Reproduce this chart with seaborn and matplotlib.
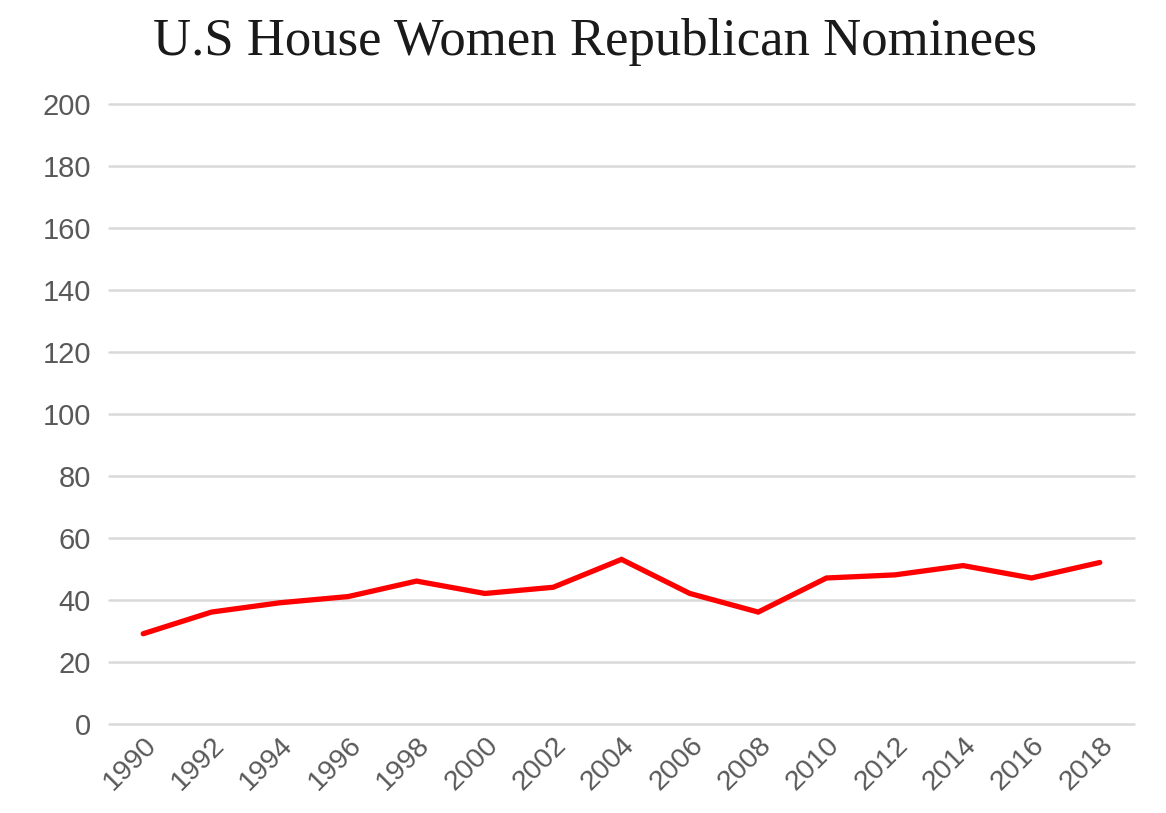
import matplotlib
matplotlib.use("Agg")
import matplotlib.pyplot as plt
import numpy as np
import pandas as pd
import seaborn as sns

years = ["1990", "1992", "1994", "1996", "1998", "2000", "2002", "2004",
         "2006", "2008", "2010", "2012", "2014", "2016", "2018"]
nominees = [29, 36, 39, 41, 46, 42, 44, 53, 42, 36, 47, 48, 51, 47, 52]
yticks = [0, 20, 40, 60, 80, 100, 120, 140, 160, 180, 200]

sns.set_theme(style="white")
plt.rcParams['font.family'] = ['Liberation Sans', 'DejaVu Sans']

df = pd.DataFrame({"year": years, "nominees": nominees})

fig = plt.figure(figsize=(11.66, 8.13), dpi=100)
ax = fig.add_axes([0.0935, 0.110, 0.879, 0.762])

pos = np.arange(len(years))
sns.lineplot(x=pos, y=df["nominees"], ax=ax, color="#ff0000", linewidth=3.8,
             solid_capstyle="round", solid_joinstyle="miter", zorder=3)

ax.set_xlim(-0.5, len(years) - 0.5)
ax.set_ylim(0, 200)
ax.set_yticks(yticks)
ax.set_yticklabels([str(t) for t in yticks], fontsize=21, color="#595959")
ax.set_xticks(pos)
ax.set_xticklabels(years, fontsize=20.5, color="#595959", rotation=45,
                   ha="right", rotation_mode="anchor")
ax.tick_params(axis="y", length=0, pad=13)
ax.tick_params(axis="x", length=0, pad=6)
ax.yaxis.grid(True, color="#d9d9d9", linewidth=1.8)
for gl in ax.get_ygridlines():
    gl.set_clip_on(False)
ax.set_axisbelow(True)
for s in ax.spines.values():
    s.set_visible(False)
ax.set_xlabel("")
ax.set_ylabel("")

fig.text(0.51, 0.948, "U.S House Women Republican Nominees", ha="center",
         va="center", fontsize=38, color="#1a1a1a", family="Liberation Serif")

fig.savefig("out.png", dpi=100, facecolor="white")
